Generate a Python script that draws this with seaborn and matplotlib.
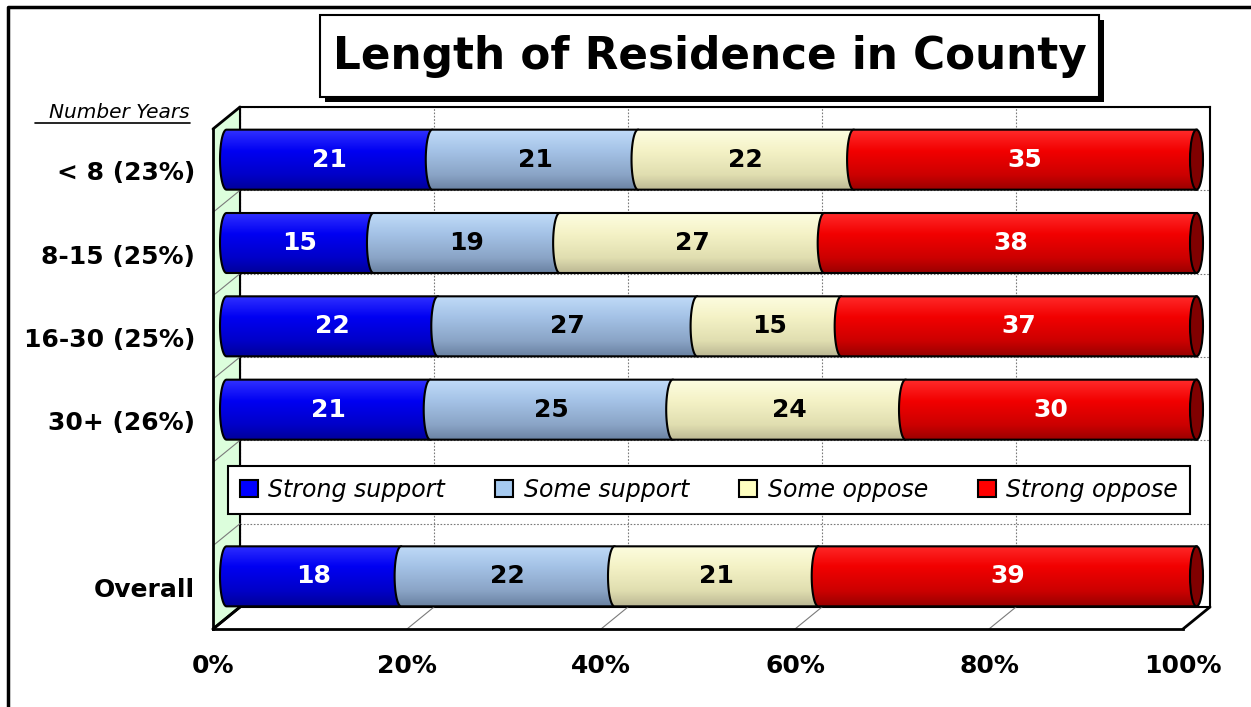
import numpy as np
import pandas as pd
import seaborn as sns
import matplotlib.pyplot as plt
from matplotlib.patches import Polygon, Rectangle, Ellipse, Patch
from matplotlib.colors import LinearSegmentedColormap

# ---- data ----
groups = ['< 8 (23%)', '8-15 (25%)', '16-30 (25%)', '30+ (26%)', '', 'Overall']
responses = ['Strong support', 'Some support', 'Some oppose', 'Strong oppose']
strong_support = [21, 15, 22, 21, np.nan, 18]
some_support = [21, 19, 27, 25, np.nan, 22]
some_oppose = [22, 27, 15, 24, np.nan, 21]
strong_oppose = [35, 38, 37, 30, np.nan, 39]
x_ticks = [0, 20, 40, 60, 80, 100]

# ---- styling ----
flat_colors = ['#0000ff', '#a6caf0', '#ffffc0', '#ff0000']
grad_colors = [['#3030ff', '#0000f2', '#0000c8', '#00009a'],
               ['#c0dbf8', '#a4c2e6', '#8aa4c6', '#6a82a2'],
               ['#fdfde0', '#f4f2c6', '#e0deb0', '#bcb894'],
               ['#ff2a2a', '#f20000', '#cc0000', '#9a0000']]
label_colors = ['white', 'black', 'black', 'white']
cap_color = '#800000'

df = pd.DataFrame({'group': groups,
                   'Strong support': strong_support,
                   'Some support': some_support,
                   'Some oppose': some_oppose,
                   'Strong oppose': strong_oppose}).dropna()
share = df[responses].div(df[responses].sum(axis=1), axis=0) * 100
cum = share.cumsum(axis=1)
for r in responses:
    df['cum ' + r] = cum[r]

# ---- pixel geometry of the pseudo-3D frame ----
W, H = 1251, 707
FX0, FX1, FY0, FY1 = 213, 1183, 129, 629   # front plane
DX, DY = 27, 22                              # depth offset


def plane(depth):
    return [(FX0 + depth * DX) / W, (H - FY1 + depth * DY) / H,
            (FX1 - FX0) / W, (FY1 - FY0) / H]


sns.set_style('white')
plt.rcParams['font.family'] = 'DejaVu Sans'
plt.rcParams['text.color'] = 'black'
plt.rcParams['xtick.color'] = 'black'
plt.rcParams['ytick.color'] = 'black'
plt.rcParams['axes.labelcolor'] = 'black'

fig = plt.figure(figsize=(W / 100, H / 100), dpi=100)

# overlay in pixel coordinates: walls, floor lines, title, border
frame = fig.add_axes([0, 0, 1, 1], zorder=0.5)
frame.set_xlim(0, W)
frame.set_ylim(H, 0)
frame.axis('off')
frame.patch.set_alpha(0)

# back wall
back = fig.add_axes(plane(1), zorder=0.2)
back.set_xlim(0, 100)
back.set_ylim(5.5, -0.5)
back.set_xticks(x_ticks)
back.set_yticks(np.arange(-0.5, 6, 1))
back.grid(True, color='#7a7a7a', lw=0.8, linestyle=(0, (1.5, 1.5)))
back.tick_params(length=0, labelbottom=False, labelleft=False)
for s in back.spines.values():
    s.set_color('black')
    s.set_linewidth(1.5)

# side wall + floor
frame.add_patch(Polygon([(FX0, FY0), (FX0 + DX, FY0 - DY), (FX0 + DX, FY1 - DY), (FX0, FY1)],
                        closed=True, facecolor='#dcfedc', edgecolor='none', zorder=1))
frame.plot([FX0 + DX, FX0 + DX], [FY0 - DY, FY1 - DY], color='black', lw=1.5, zorder=2)
step = (FY1 - FY0) / 6
for k in range(7):
    py = FY0 + k * step
    edge = k in (0, 6)
    frame.plot([FX0, FX0 + DX], [py, py - DY], color='black' if edge else '#7a7a7a',
               lw=2 if edge else 0.8, zorder=2)
for t in x_ticks:
    px = FX0 + t / 100 * (FX1 - FX0)
    edge = t in (0, 100)
    frame.plot([px, px + DX], [FY1, FY1 - DY], color='black' if edge else '#7a7a7a',
               lw=2 if edge else 0.8, zorder=2)

# front axes: ticks and labels
front = fig.add_axes(plane(0), zorder=1)
front.patch.set_alpha(0)
front.set_xlim(0, 100)
front.set_ylim(5.5, -0.5)
front.set_xticks(x_ticks)
front.set_xticklabels([f'{t}%' for t in x_ticks], fontsize=18, fontweight='bold')
front.set_yticks(range(len(groups)))
front.set_yticklabels(groups, fontsize=18, fontweight='bold')
front.set_yticks(np.arange(-0.5, 6, 1), minor=True)
front.tick_params(axis='x', length=9, width=2, pad=9)
front.tick_params(axis='y', which='major', length=0, pad=13)
front.tick_params(axis='y', which='minor', length=9, width=2)
for side in ('top', 'right'):
    front.spines[side].set_visible(False)
for side in ('left', 'bottom'):
    front.spines[side].set_linewidth(2)
    front.spines[side].set_color('black')

# bars at mid depth
ax = fig.add_axes(plane(0.5), zorder=2)
ax.patch.set_alpha(0)

a = 6.5 / ((FX1 - FX0) / 100)   # cylinder face semi-axis in data units
bar_h = 0.72
prev_end = {}
grad = np.linspace(0, 1, 120).reshape(-1, 1)
for k, resp in enumerate(responses):
    sns.barplot(data=df, x='cum ' + resp, y='group', order=groups, orient='h',
                color=flat_colors[k], width=bar_h, errorbar=None, ax=ax)
    cont = ax.containers[-1]
    cmap = LinearSegmentedColormap.from_list(resp, list(zip([0, .35, .75, 1], grad_colors[k])))
    labels = []
    for bar in cont:
        row = int(round(bar.get_y() + bar.get_height() / 2))
        x1 = bar.get_width()
        x0 = prev_end.get(row, 0.0)
        prev_end[row] = x1
        bar.set_x(x0)
        bar.set_width(x1 - x0)
        z = 2 + k * 0.1
        bar.set_zorder(z)
        bar.set_linewidth(0)
        yt, yb = bar.get_y(), bar.get_y() + bar.get_height()
        yc = (yt + yb) / 2
        t = np.linspace(-np.pi / 2, -1.5 * np.pi, 40)
        arc = np.column_stack([x0 + a * np.cos(t), yc + (bar_h / 2) * np.sin(t)])
        pts = np.vstack([[x1, yt], arc, [x1, yb]])
        poly = Polygon(pts, closed=True, facecolor='none', edgecolor='black', lw=1.5,
                       zorder=z + 0.02, clip_on=False)
        ax.add_patch(poly)
        im = ax.imshow(grad, cmap=cmap, extent=(x0 - a, x1, yb, yt), aspect='auto',
                       zorder=z + 0.01, interpolation='bilinear')
        im.set_clip_box(fig.bbox)
        im.set_clip_path(poly)
        if k == len(responses) - 1:
            ax.add_patch(Ellipse((x1, yc), 2 * a, bar_h, facecolor=cap_color,
                                 edgecolor='black', lw=1.5, zorder=z + 0.05, clip_on=False))
        labels.append(f'{df.loc[df["group"] == groups[row], resp].iloc[0]:.0f}')
    ax.bar_label(cont, labels=labels, label_type='center', color=label_colors[k],
                 fontsize=18, fontweight='bold', zorder=5)

ax.set_xlim(0, 100)
ax.set_ylim(5.5, -0.5)
ax.axis('off')

# legend in the blank row
handles = [Patch(facecolor=c, edgecolor='black', lw=1.5) for c in flat_colors]
leg = fig.legend(handles, responses, loc='center',
                 bbox_to_anchor=(228 / W, 1 - 518 / H, 962 / W, 56 / H), mode='expand',
                 ncol=4, fancybox=False, framealpha=1, edgecolor='black',
                 prop={'size': 17, 'style': 'italic'}, handlelength=0.75, handleheight=0.75,
                 handletextpad=0.45, borderaxespad=0, borderpad=0.5)
leg.get_frame().set_linewidth(1.5)
leg.set_zorder(10)

# axis caption
frame.text(190, 113, 'Number Years', ha='right', va='center', fontsize=14.5, style='italic')
frame.plot([35, 190], [123, 123], color='black', lw=1.2)

# title box with shadow
frame.add_patch(Rectangle((325, 20), 779, 82, facecolor='black', edgecolor='none', zorder=3))
frame.add_patch(Rectangle((320, 15), 779, 82, facecolor='white', edgecolor='black', lw=1.5, zorder=4))
frame.text(709.5, 57, 'Length of Residence in County', ha='center', va='center',
           fontsize=31.5, fontweight='bold', zorder=5)

# outer chart border
frame.plot([8, 8, W + 5], [H + 5, 7, 7], color='black', lw=2.5, clip_on=False, zorder=3)

fig.savefig('out.png', dpi=100)
